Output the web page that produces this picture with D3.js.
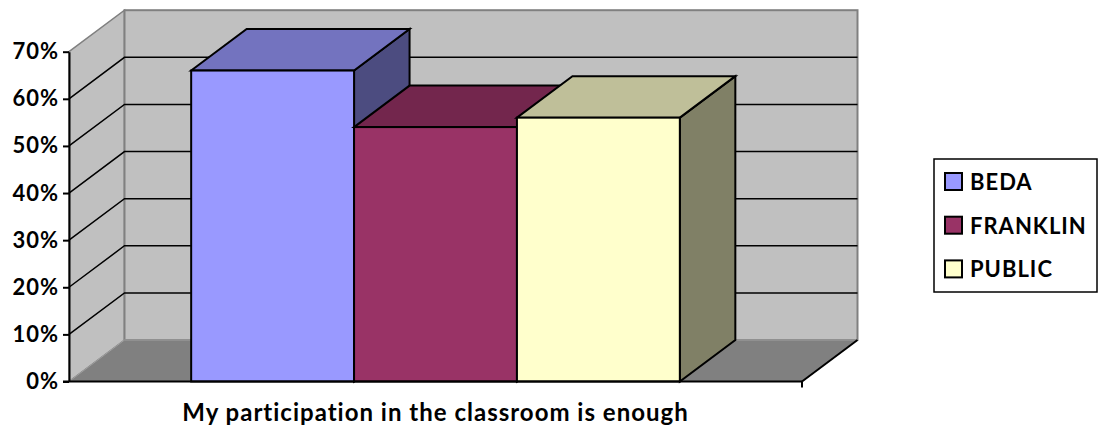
<!DOCTYPE html>
<html>
<head>
<meta charset="utf-8">
<script src="https://cdn.jsdelivr.net/npm/d3@7"></script>
<style>
  body { margin: 0; background: #fff; }
  text { font-family: Lato, "Open Sans", sans-serif; font-weight: bold; fill: #000; }
</style>
</head>
<body>
<div id="chart-container"></div>
<script>
// Chart data
const categories = ["My participation in the classroom is enough"];
const seriesNames = ["BEDA", "FRANKLIN", "PUBLIC"];
const seriesValues = [0.66, 0.54, 0.56];
const tickValues = [0, 0.1, 0.2, 0.3, 0.4, 0.5, 0.6, 0.7];

const frontColors = ["#9999ff", "#993366", "#ffffcc"];
const topColors = ["#7373bf", "#73264d", "#bfbf99"];
const sideColors = ["#4c4c80", "#4d1933", "#808066"];

const width = 1101, height = 427;
const plot = { left: 69, right: 802, top: 51.7, bottom: 381.5 };
const depth = { dx: 55.5, dy: -41.5 };

const svg = d3.select("#chart-container")
  .append("svg")
  .attr("width", width)
  .attr("height", height);

const y = d3.scaleLinear().domain([0, 0.7]).range([plot.bottom, plot.top]);

const x = d3.scaleBand()
  .domain(categories)
  .range([plot.left, plot.right])
  .paddingInner(0)
  .paddingOuter(0.25);

const xs = d3.scaleBand()
  .domain(seriesNames)
  .range([0, x.bandwidth()]);

const pt = (px, py) => `${px},${py}`;
const off = (px, py) => pt(px + depth.dx, py + depth.dy);

// Side wall
svg.append("polygon")
  .attr("points", [pt(plot.left, y(0.7)), off(plot.left, y(0.7)), off(plot.left, y(0)), pt(plot.left, y(0))].join(" "))
  .attr("fill", "#c0c0c0")
  .attr("stroke", "#808080")
  .attr("stroke-width", 1.5);

// Back wall
svg.append("rect")
  .attr("x", plot.left + depth.dx)
  .attr("y", y(0.7) + depth.dy)
  .attr("width", plot.right - plot.left)
  .attr("height", y(0) - y(0.7))
  .attr("fill", "#c0c0c0")
  .attr("stroke", "#808080")
  .attr("stroke-width", 2);

// Floor
svg.append("polygon")
  .attr("points", [pt(plot.left, y(0)), off(plot.left, y(0)), off(plot.right, y(0)), pt(plot.right, y(0))].join(" "))
  .attr("fill", "#808080")
  .attr("stroke", "#a0a0a0")
  .attr("stroke-width", 1);

svg.append("line")
  .attr("x1", plot.right).attr("y1", y(0))
  .attr("x2", plot.right + depth.dx).attr("y2", y(0) + depth.dy)
  .attr("stroke", "#000").attr("stroke-width", 2);

// Gridlines on side and back walls
const inner = tickValues.filter(t => t > 0 && t < 0.7);
svg.append("g")
  .selectAll("path")
  .data(inner)
  .join("path")
  .attr("d", t => `M${pt(plot.left, y(t))}L${off(plot.left, y(t))}L${off(plot.right, y(t))}`)
  .attr("fill", "none")
  .attr("stroke", "#000")
  .attr("stroke-width", 1.5);

// Bars
seriesNames.forEach((name, i) => {
  const x0 = x(categories[0]) + xs(name);
  const x1 = x0 + xs.bandwidth();
  const yt = y(seriesValues[i]);
  const yb = y(0);
  const g = svg.append("g")
    .attr("stroke", "#000")
    .attr("stroke-width", 2)
    .attr("stroke-linejoin", "miter");
  g.append("polygon")
    .attr("points", [pt(x1, yt), off(x1, yt), off(x1, yb), pt(x1, yb)].join(" "))
    .attr("fill", sideColors[i]);
  g.append("polygon")
    .attr("points", [pt(x0, yt), off(x0, yt), off(x1, yt), pt(x1, yt)].join(" "))
    .attr("fill", topColors[i]);
  g.append("rect")
    .attr("x", x0).attr("y", yt)
    .attr("width", x1 - x0).attr("height", yb - yt)
    .attr("fill", frontColors[i]);
});

// Y axis
const yAxis = svg.append("g")
  .attr("transform", `translate(${plot.left},0)`)
  .call(d3.axisLeft(y).tickValues(tickValues).tickFormat(d3.format(".0%")).tickSize(6).tickSizeOuter(0).tickPadding(4));
yAxis.select(".domain").attr("stroke", "#000").attr("stroke-width", 2);
yAxis.selectAll(".tick line").attr("stroke", "#000").attr("stroke-width", 2);
yAxis.selectAll(".tick text")
  .attr("font-family", "Lato, sans-serif")
  .attr("font-weight", "bold")
  .attr("font-size", 22)
  .attr("letter-spacing", 1)
  .attr("fill", "#000");

// Floor front edge
svg.append("line")
  .attr("x1", plot.left - 6).attr("y1", y(0))
  .attr("x2", plot.right).attr("y2", y(0))
  .attr("stroke", "#000").attr("stroke-width", 2);
svg.append("line")
  .attr("x1", plot.right).attr("y1", y(0))
  .attr("x2", plot.right).attr("y2", y(0) + 6)
  .attr("stroke", "#000").attr("stroke-width", 2);

// Category label
svg.append("text")
  .attr("x", x(categories[0]) + x.bandwidth() / 2)
  .attr("y", 421)
  .attr("text-anchor", "middle")
  .attr("font-size", 24)
  .attr("letter-spacing", 1)
  .text(categories[0]);

// Legend
const legend = svg.append("g").attr("transform", "translate(934,159)");
legend.append("rect")
  .attr("width", 163).attr("height", 133)
  .attr("fill", "#fff")
  .attr("stroke", "#000")
  .attr("stroke-width", 1.5);
const item = legend.selectAll(".item")
  .data(seriesNames)
  .join("g")
  .attr("class", "item")
  .attr("transform", (d, i) => `translate(0,${22.5 + i * 43.7})`);
item.append("rect")
  .attr("x", 11).attr("y", -8.5)
  .attr("width", 17).attr("height", 17)
  .attr("fill", (d, i) => frontColors[i])
  .attr("stroke", "#000")
  .attr("stroke-width", 2);
item.append("text")
  .attr("x", 36)
  .attr("y", 8.5)
  .attr("font-size", 22)
  .attr("letter-spacing", 1)
  .text(d => d);
</script>
</body>
</html>
